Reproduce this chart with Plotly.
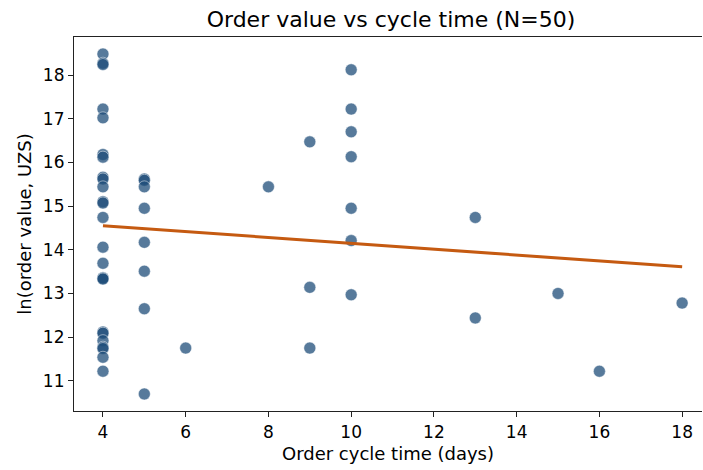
import numpy as np
import plotly.graph_objects as go

cycle_days = [4]*25 + [5]*8 + [6] + [8] + [9]*3 + [10]*7 + [13]*2 + [15] + [16] + [18]
ln_value = [
    18.48, 18.27, 18.24, 17.22, 17.02, 16.18, 16.12, 15.66, 15.62,
    15.44, 15.10, 15.07, 14.74, 14.06, 13.69, 13.36, 13.35, 13.33, 12.12, 12.09,
    11.92, 11.77, 11.74, 11.54, 11.22,
    15.62, 15.59, 15.44, 14.95, 14.17, 13.51, 12.65, 10.70,
    11.75,
    15.44,
    16.47, 13.14, 11.75,
    18.12, 17.22, 16.70, 16.13, 14.95, 14.21, 12.97,
    14.74, 12.44,
    13.00,
    11.22,
    12.78,
]
x_ticks = [4, 6, 8, 10, 12, 14, 16, 18]
y_ticks = [11, 12, 13, 14, 15, 16, 17, 18]

x = np.array(cycle_days, dtype=float)
y = np.array(ln_value)
slope, intercept = np.polyfit(x, y, 1)
x_fit = np.array([x.min(), x.max()])
y_fit = slope * x_fit + intercept

font = "DejaVu Sans, sans-serif"
fig = go.Figure()
fig.add_trace(go.Scatter(
    x=cycle_days, y=ln_value, mode="markers",
    marker=dict(size=12, color="rgba(31,78,121,0.75)",
                line=dict(width=0.8, color="rgba(255,255,255,0.6)")),
    showlegend=False, hoverinfo="skip"))
fig.add_trace(go.Scatter(
    x=x_fit, y=y_fit, mode="lines",
    line=dict(color="#c55a11", width=3),
    showlegend=False, hoverinfo="skip"))

fig.update_layout(
    width=703, height=470,
    margin=dict(l=74, r=1, t=37, b=59, autoexpand=False),
    paper_bgcolor="white", plot_bgcolor="white",
    font=dict(family=font, size=17, color="#000000"),
    title=dict(text="Order value vs cycle time (N=50)", x=391/703, xref="container",
               xanchor="center", y=1 - 19/470, yanchor="middle",
               font=dict(size=22, family=font, color="#000000")),
)
fig.update_xaxes(
    range=[3.3, 18.48], tickvals=x_ticks, ticks="outside", ticklen=5, tickwidth=1.2,
    tickcolor="#222", showline=True, linecolor="#222", linewidth=1.2, mirror=True,
    showgrid=False, zeroline=False, tickfont=dict(size=17), automargin=False,
    title=dict(text="Order cycle time (days)", font=dict(size=18), standoff=6),
)
fig.update_yaxes(
    range=[10.31, 18.87], tickvals=y_ticks, ticks="outside", ticklen=5, tickwidth=1.2,
    tickcolor="#222", showline=True, linecolor="#222", linewidth=1.2, mirror=False,
    showgrid=False, zeroline=False, tickfont=dict(size=17), automargin=False,
    title=dict(text="ln(order value, UZS)", font=dict(size=18), standoff=6),
)
fig.write_html("out.html", config={"displayModeBar": False},
               post_script="document.body.style.margin='0';document.body.style.overflow='hidden';")
